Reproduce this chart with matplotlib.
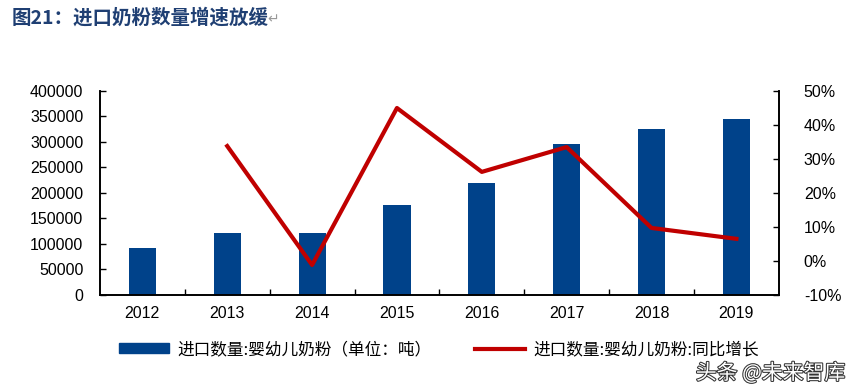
import matplotlib.pyplot as plt
import matplotlib.patheffects as pe
from matplotlib.lines import Line2D
from matplotlib.patches import Patch
from matplotlib.ticker import FuncFormatter

plt.rcParams['font.family'] = ['Liberation Sans', 'Noto Sans CJK SC', 'DejaVu Sans']

# Données
annees = ['2012', '2013', '2014', '2015', '2016', '2017', '2018', '2019']
quantite = [92000, 121500, 121500, 176500, 219500, 296000, 325500, 345000]
annees_croissance = ['2013', '2014', '2015', '2016', '2017', '2018', '2019']
croissance = [33.8, -1.2, 45.0, 26.2, 33.5, 9.7, 6.5]

# Couleurs
Bleu = '#00428A'
Rouge = '#C00000'
Titre = '#1F3F73'

fig = plt.figure(figsize=(8.54, 3.84), dpi=100)
ax = fig.add_axes([0.117, 0.232, 0.795, 0.531])
ax2 = ax.twinx()

x = list(range(len(annees)))
ax.bar(x, quantite, width=0.32, color=Bleu, zorder=2)
xc = [annees.index(a) for a in annees_croissance]
ax2.plot(xc, croissance, color=Rouge, linewidth=3, zorder=3)

ax.set_xlim(-0.5, len(annees) - 0.5)
ax.set_ylim(0, 400000)
ax.set_yticks(range(0, 400001, 50000))
ax2.set_ylim(-10, 50)
ax2.set_yticks(range(-10, 51, 10))
ax2.yaxis.set_major_formatter(FuncFormatter(lambda v, p: f'{int(v)}%'))

ax.set_xticks(x)
ax.set_xticklabels(annees)
ax.set_xticks([i + 0.5 for i in x[:-1]], minor=True)
ax.tick_params(axis='x', which='major', length=0, pad=8, labelsize=11.5)
ax.tick_params(axis='x', which='minor', direction='in', length=4, width=1)
ax.tick_params(axis='y', direction='in', length=4, width=1, labelsize=11.5, pad=12)
ax2.tick_params(axis='y', direction='in', length=4, width=1, labelsize=11.5, pad=18)

for a in (ax, ax2):
    a.spines['top'].set_visible(False)
    for s in ('left', 'right', 'bottom'):
        a.spines[s].set_linewidth(1.2)

# Titre
fig.text(0.014, 0.955, '图21：进口奶粉数量增速放缓', fontsize=14, fontweight='bold',
         color=Titre, family=['Noto Sans CJK SC'], va='center')
fig.text(0.313, 0.95, '↵', fontsize=10, color='#999999', va='center', family=['DejaVu Sans'])

# Légende
handles = [Patch(color=Bleu), Line2D([0], [0], color=Rouge, linewidth=3)]
labels = ['进口数量:婴幼儿奶粉（单位：吨）', '进口数量:婴幼儿奶粉:同比增长']
fig.legend(handles, labels, loc='center left', bbox_to_anchor=(0.122, 0.09), ncol=2,
           frameon=False, handlelength=3.0, handleheight=0.5, handletextpad=0.5,
           columnspacing=2.6, prop={'family': ['Noto Sans CJK SC'], 'size': 12})

# Filigrane
fig.text(0.99, 0.028, '头条 @未来智库', fontsize=15, color='white', ha='right', va='center',
         family=['Noto Sans CJK SC'],
         path_effects=[pe.withStroke(linewidth=1.5, foreground='#333333')])

fig.savefig('out.png', dpi=100)
